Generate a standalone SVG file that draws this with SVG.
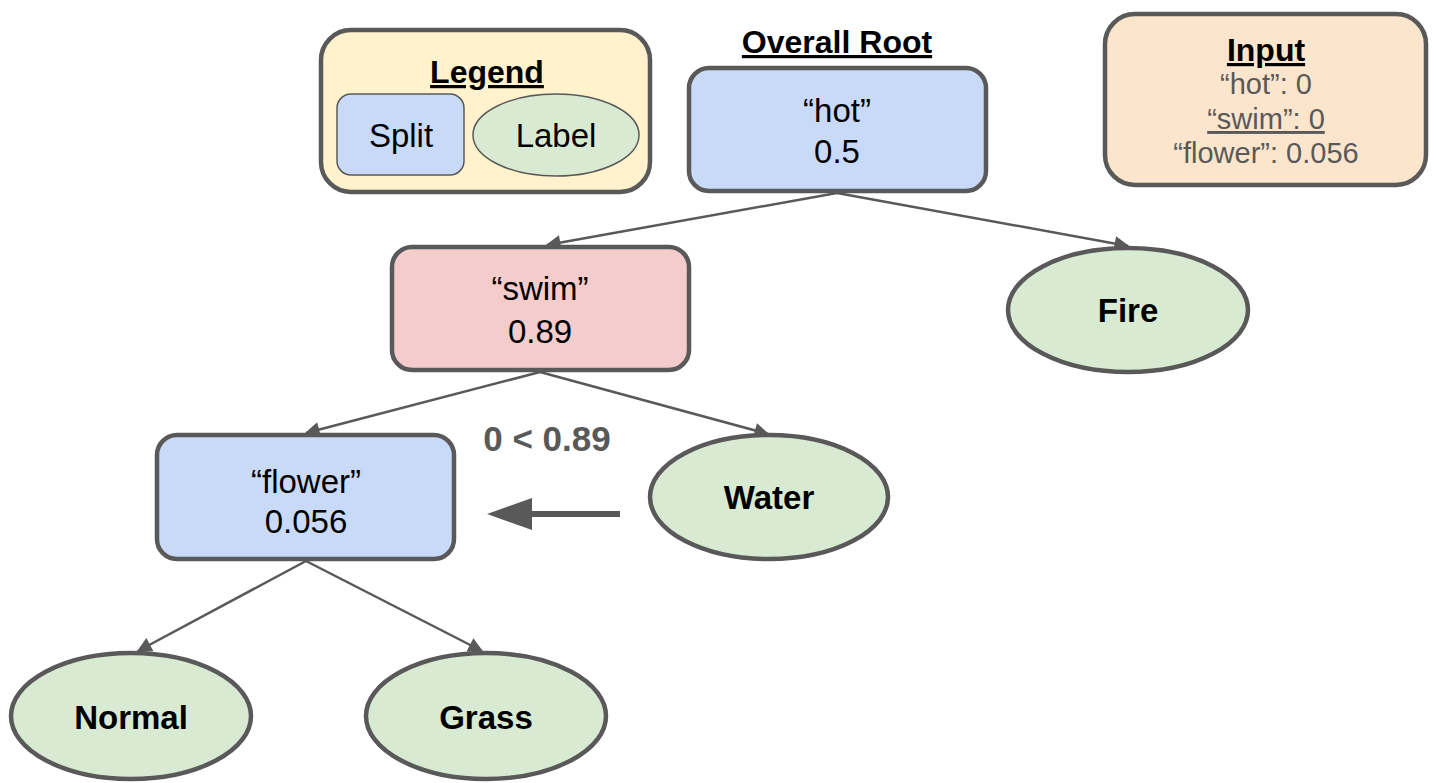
<svg xmlns="http://www.w3.org/2000/svg" width="1436" height="783" viewBox="0 0 1436 783">
<defs>
<marker id="ah" viewBox="0 0 10 10" refX="9" refY="5" markerWidth="7" markerHeight="6" markerUnits="strokeWidth" orient="auto">
<path d="M0,0 L10,5 L0,10 z" fill="#595959"/>
</marker>
<style>
text{font-family:"Liberation Sans",Arial,sans-serif;text-anchor:middle;fill:#000}
.box{stroke:#595959;stroke-width:4.5}
.split{fill:#c9daf8}
.leaf{fill:#d9ead3}
.t{font-size:33px}
.b{font-size:33px;font-weight:bold}
.h{font-size:32px;font-weight:bold;text-decoration:underline}
.g{font-size:29px;fill:#595959}
.edge{stroke:#595959;stroke-width:2.5;fill:none;marker-end:url(#ah)}
</style>
</defs>
<rect width="1436" height="783" fill="#fff"/>
<g id="legend">
<rect class="box" x="321" y="30" width="329" height="162" rx="30" fill="#fff2cc"/>
<text class="h" x="487" y="83">Legend</text>
<rect x="337" y="94" width="127" height="81" rx="14" fill="#c9daf8" stroke="#595959" stroke-width="1.5"/>
<text class="t" x="401" y="147">Split</text>
<ellipse cx="556" cy="135" rx="83" ry="41" fill="#d9ead3" stroke="#595959" stroke-width="1.5"/>
<text class="t" x="556" y="147">Label</text>
</g>
<g id="root-title">
<text class="h" x="837" y="53">Overall Root</text>
</g>
<g id="input">
<rect class="box" x="1105" y="14" width="321" height="171" rx="30" fill="#fce5cd"/>
<text class="h" x="1266" y="61">Input</text>
<text class="g" x="1266" y="94">“hot”: 0</text>
<text class="g" x="1266" y="129" text-decoration="underline">“swim”: 0</text>
<text class="g" x="1266" y="163">“flower”: 0.056</text>
</g>
<g id="edges">
<line class="edge" x1="837" y1="193" x2="547" y2="245"/>
<line class="edge" x1="837" y1="193" x2="1128" y2="246"/>
<line class="edge" x1="540" y1="372" x2="306" y2="433"/>
<line class="edge" x1="540" y1="372" x2="768" y2="434"/>
<line class="edge" x1="306" y1="561" x2="138" y2="651"/>
<line class="edge" x1="306" y1="561" x2="482" y2="651"/>
</g>
<g id="node-hot">
<rect class="box split" x="689" y="68" width="297" height="123" rx="20"/>
<text class="t" x="837" y="122">“hot”</text>
<text class="t" x="837" y="163">0.5</text>
</g>
<g id="node-swim">
<rect class="box" x="392" y="247" width="297" height="123" rx="20" fill="#f4cccc"/>
<text class="t" x="540" y="300">“swim”</text>
<text class="t" x="540" y="343">0.89</text>
</g>
<g id="node-fire">
<ellipse class="box leaf" cx="1128" cy="310" rx="120" ry="62"/>
<text class="b" x="1128" y="322">Fire</text>
</g>
<g id="node-water">
<ellipse class="box leaf" cx="769" cy="497" rx="119" ry="62"/>
<text class="b" x="769" y="509">Water</text>
</g>
<g id="node-flower">
<rect class="box split" x="157" y="435" width="297" height="124" rx="20"/>
<text class="t" x="306" y="493">“flower”</text>
<text class="t" x="306" y="533">0.056</text>
</g>
<g id="node-normal">
<ellipse class="box leaf" cx="131" cy="716" rx="120" ry="63"/>
<text class="b" x="131" y="729">Normal</text>
</g>
<g id="node-grass">
<ellipse class="box leaf" cx="486" cy="716" rx="120" ry="63"/>
<text class="b" x="486" y="729">Grass</text>
</g>
<g id="annotation">
<text class="b" x="547" y="451" style="fill:#595959;font-size:35px">0 &lt; 0.89</text>
<line x1="620" y1="514" x2="528" y2="514" stroke="#595959" stroke-width="6"/>
<polygon points="487,514 532,498 532,530" fill="#595959"/>
</g>
</svg>
